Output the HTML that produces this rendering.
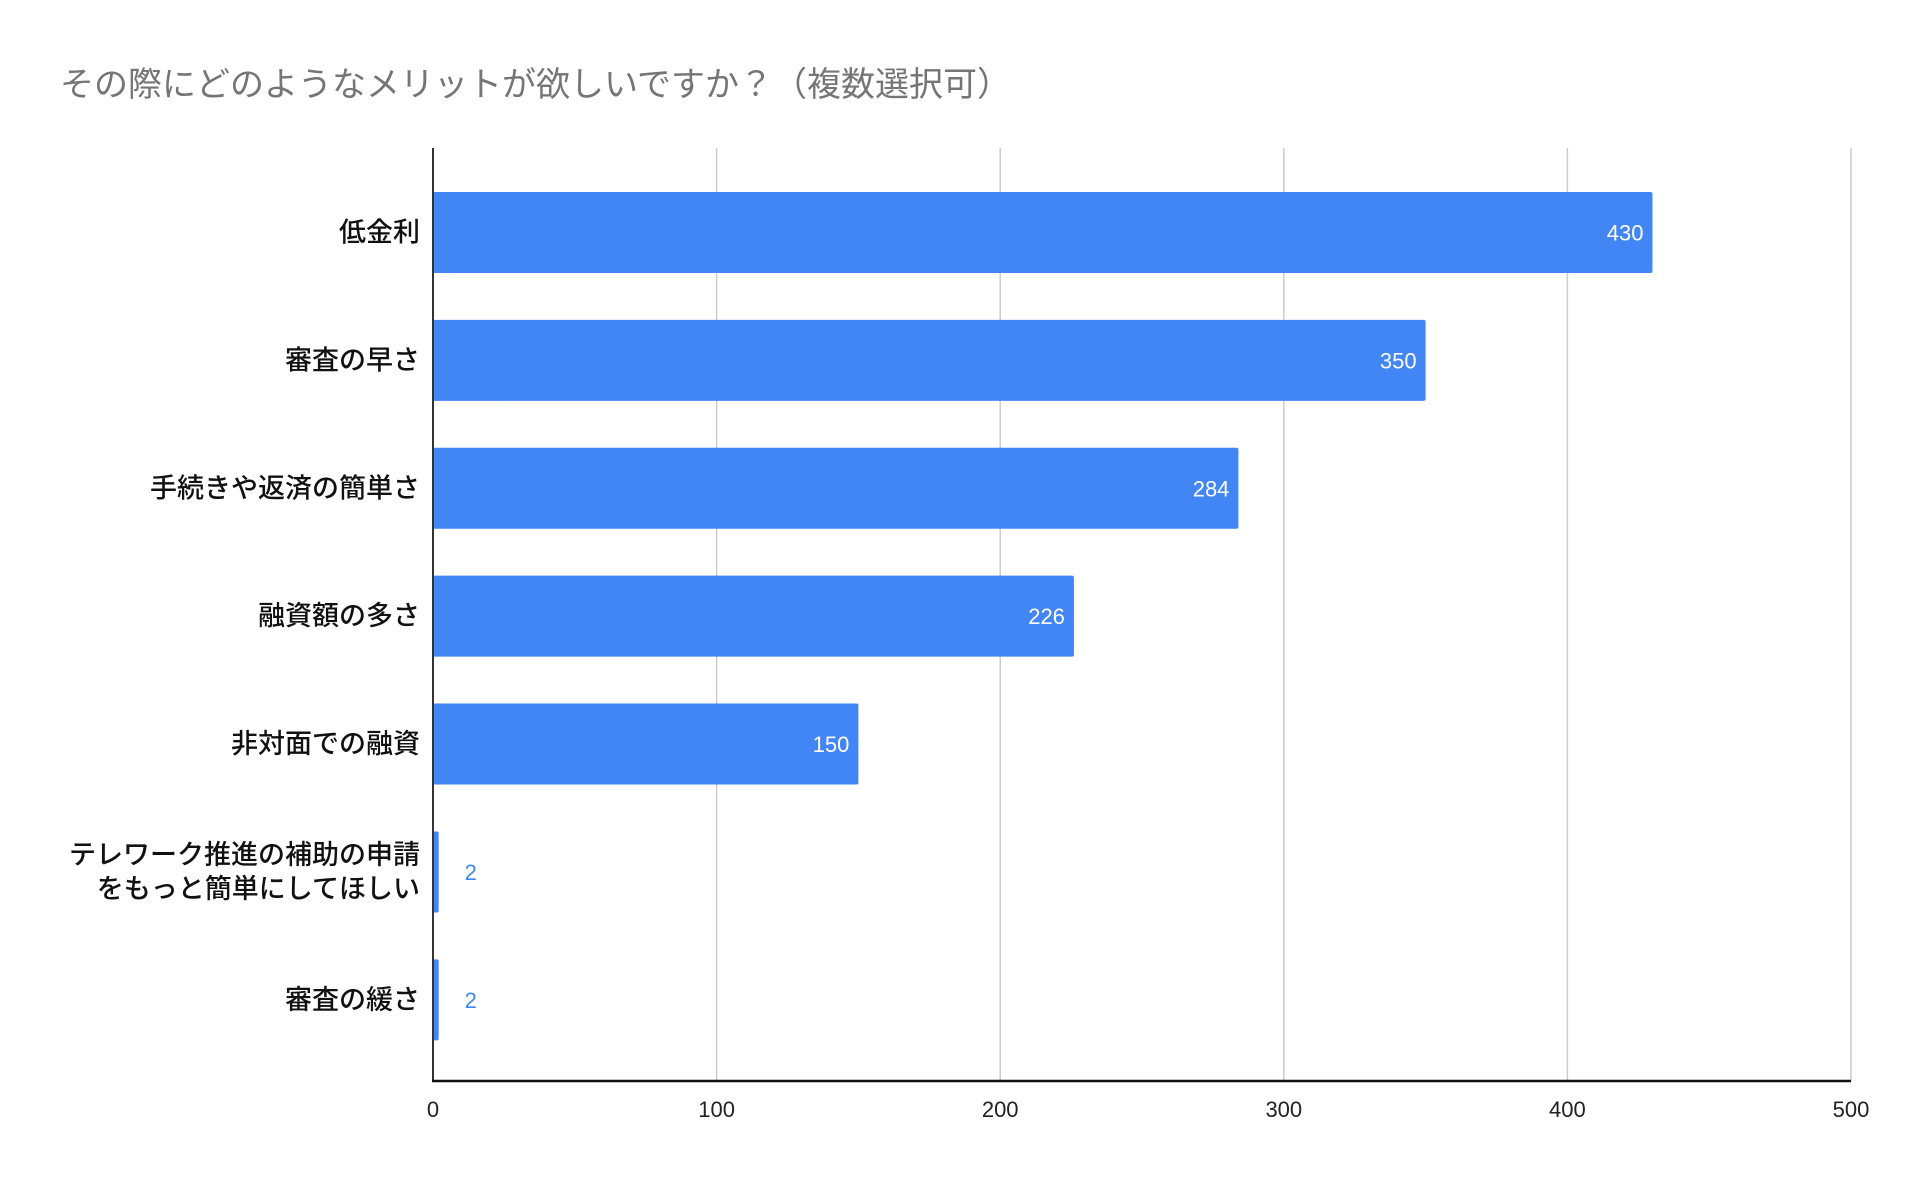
<!DOCTYPE html>
<html><head><meta charset="utf-8"><style>
body{margin:0;background:#fff;width:1910px;height:1180px;overflow:hidden}
svg text{font-family:"Liberation Sans","Noto Sans CJK JP",sans-serif}
</style></head><body>
<svg id="chart" width="1910" height="1180" xmlns="http://www.w3.org/2000/svg">
<text x="60" y="96" font-size="34" fill="#757575">その際にどのようなメリットが欲しいですか？（複数選択可）</text>
<g id="grid"></g><g id="bars"></g><g id="labels"></g>
</svg>
<script>
const categories=[["低金利"],["審査の早さ"],["手続きや返済の簡単さ"],["融資額の多さ"],["非対面での融資"],["テレワーク推進の補助の申請","をもっと簡単にしてほしい"],["審査の緩さ"]];
const values=[430,350,284,226,150,2,2];
const ticks=[0,100,200,300,400,500];
const NS="http://www.w3.org/2000/svg";
const x0=433,x1=1851,plotTop=148,plotBottom=1081,bandStart=168.5,band=127.9,barH=81;
const xs=v=>x0+(x1-x0)*v/500;
const yc=i=>bandStart+band*(i+0.5);
function mk(t,a,p){const e=document.createElementNS(NS,t);for(const k in a)e.setAttribute(k,a[k]);p.appendChild(e);return e;}
const g=document.getElementById('grid'),b=document.getElementById('bars'),l=document.getElementById('labels');
ticks.forEach(t=>{
 if(t>0){const ln=mk('line',{x1:xs(t),x2:xs(t),y1:plotTop,y2:plotBottom,stroke:'#cccccc','stroke-width':1.5},g);
 
 }
 const tx=mk('text',{x:xs(t),y:plotBottom+36,'font-size':22,'text-anchor':'middle',fill:'#222'},l);
 tx.textContent=t;
 
 
});
values.forEach((v,i)=>{
 const r=mk('rect',{x:x0,y:yc(i)-barH/2,width:Math.max(xs(v)-x0,3),height:barH,fill:'#4285f4',rx:2},b);
 
 
 const inside=xs(v)-x0>60;
 const vt=mk('text',{x:inside?xs(v)-9:xs(v)+26,y:yc(i)+8,'font-size':22,'text-anchor':inside?'end':'start',fill:inside?'#fff':'#4285f4'},l);
 vt.textContent=v;
 
 
 const lines=categories[i];
 lines.forEach((s,j)=>{
  const ct=mk('text',{x:420,y:yc(i)+9+(j-(lines.length-1)/2)*34,'font-size':27,'font-weight':500,'text-anchor':'end',fill:'#111'},l);
  ct.textContent=s;
  
  
 });
});
const ya=mk('line',{x1:x0,x2:x0,y1:plotTop,y2:plotBottom,stroke:'#333','stroke-width':2},l);


const xa=mk('line',{x1:x0-1,x2:x1,y1:plotBottom,y2:plotBottom,stroke:'#111','stroke-width':2.5},l);


</script>
</body></html>
